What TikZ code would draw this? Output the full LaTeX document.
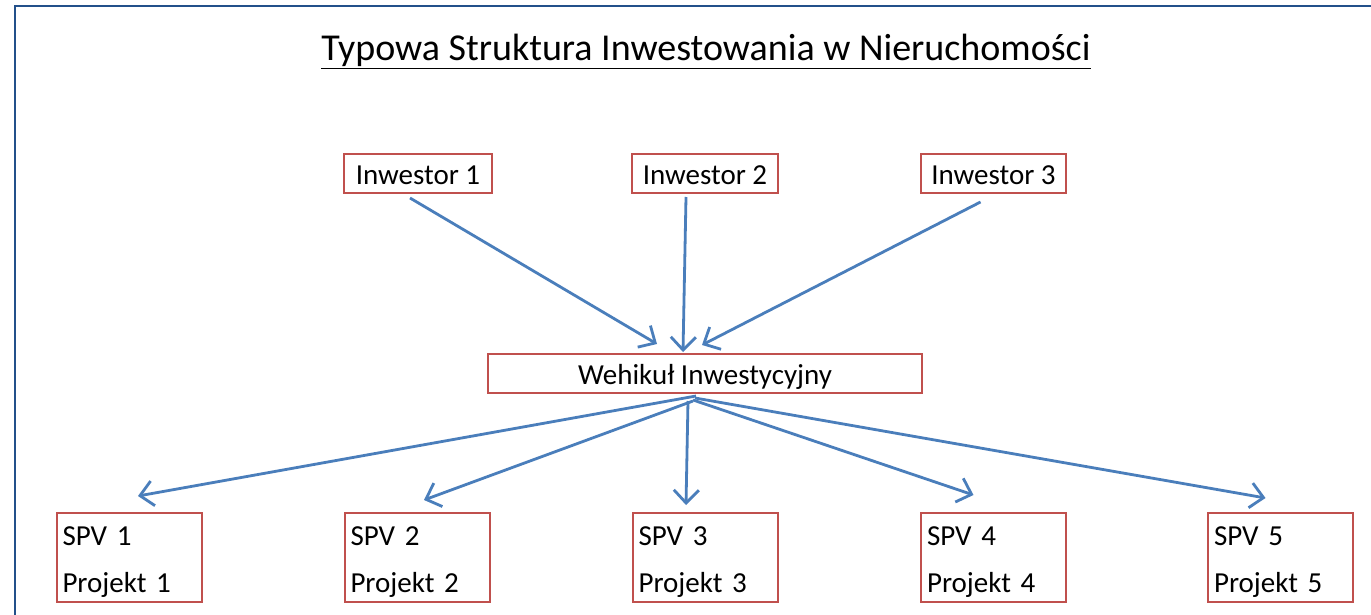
\documentclass[tikz,border=0pt]{standalone}
\usepackage{fontspec}
\setmainfont{Carlito}
\usetikzlibrary{arrows.meta,calc}
\definecolor{frameblue}{HTML}{23508A}
\definecolor{boxred}{HTML}{C0504D}
\definecolor{arrblue}{HTML}{4A7EBB}
\newcommand{\lowtext}[1]{\raisebox{-10.5pt}[0pt][0pt]{#1}}
\newcommand{\topstrut}{\rule{0pt}{27pt}}
\tikzset{
  box/.style={draw=boxred, line width=2pt, rectangle, inner sep=0pt, font=\fontsize{29}{29}\selectfont},
  spvbox/.style={box, minimum width=145pt, minimum height=89pt, text width=133pt, align=left,
     font=\fontsize{29}{47}\selectfont},
  arr/.style={draw=arrblue, line width=2.8pt, -{Straight Barb[length=13pt,width=25pt,line width=2.8pt]}},
}
\begin{document}
\begin{tikzpicture}[x=1pt,y=-1pt]
\useasboundingbox (0,0) rectangle (1371,615);
\fill[white] (0,0) rectangle (1371,615);
\draw[frameblue, line width=2.5pt] (15,615) -- (15,6) -- (1371,6);
\node[font=\fontsize{38}{38}\selectfont, anchor=base] (title) at (706,61) {\underline{Typowa Struktura Inwestowania w Nieruchomości}};
\node[box, minimum width=148pt, minimum height=39pt] (i1) at (418,173.5) {\lowtext{Inwestor 1}};
\node[box, minimum width=146pt, minimum height=39pt] (i2) at (705,173.5) {\lowtext{Inwestor 2}};
\node[box, minimum width=145pt, minimum height=39pt] (i3) at (993.5,173.5) {\lowtext{Inwestor 3}};
\node[box, minimum width=434pt, minimum height=39pt] (w) at (705,373.5) {\lowtext{Wehikuł Inwestycyjny}};
\node[spvbox] (s1) at (129,557.5) {\topstrut SPV 1\\Projekt 1};
\node[spvbox] (s2) at (417,557.5) {\topstrut SPV 2\\Projekt 2};
\node[spvbox] (s3) at (705,557.5) {\topstrut SPV 3\\Projekt 3};
\node[spvbox] (s4) at (993.5,557.5) {\topstrut SPV 4\\Projekt 4};
\node[spvbox] (s5) at (1280.5,557.5) {\topstrut SPV 5\\Projekt 5};
\draw[arr] ($(i1.south)+(-8,4)$) -- ($(w.north)+(-48,-9)$);
\draw[arr] ($(i2.south)+(-19,3)$) -- ($(w.north)+(-22,-1)$);
\draw[arr] ($(i3.south)+(-13,8)$) -- ($(w.north)+(-3,-8)$);
\draw[arr] ($(w.south)+(-9,2)$) -- ($(s1.north)+(9,-16)$);
\draw[arr] ($(w.south)+(-12,7)$) -- ($(s2.north)+(7,-12)$);
\draw[arr] ($(w.south)+(-17,7)$) -- ($(s3.north)+(-19,-7)$);
\draw[arr] ($(w.south)+(-12,6)$) -- ($(s4.north)+(-20,-17)$);
\draw[arr] ($(w.south)+(-10,4)$) -- ($(s5.north)+(-15,-14)$);
\end{tikzpicture}
\end{document}
